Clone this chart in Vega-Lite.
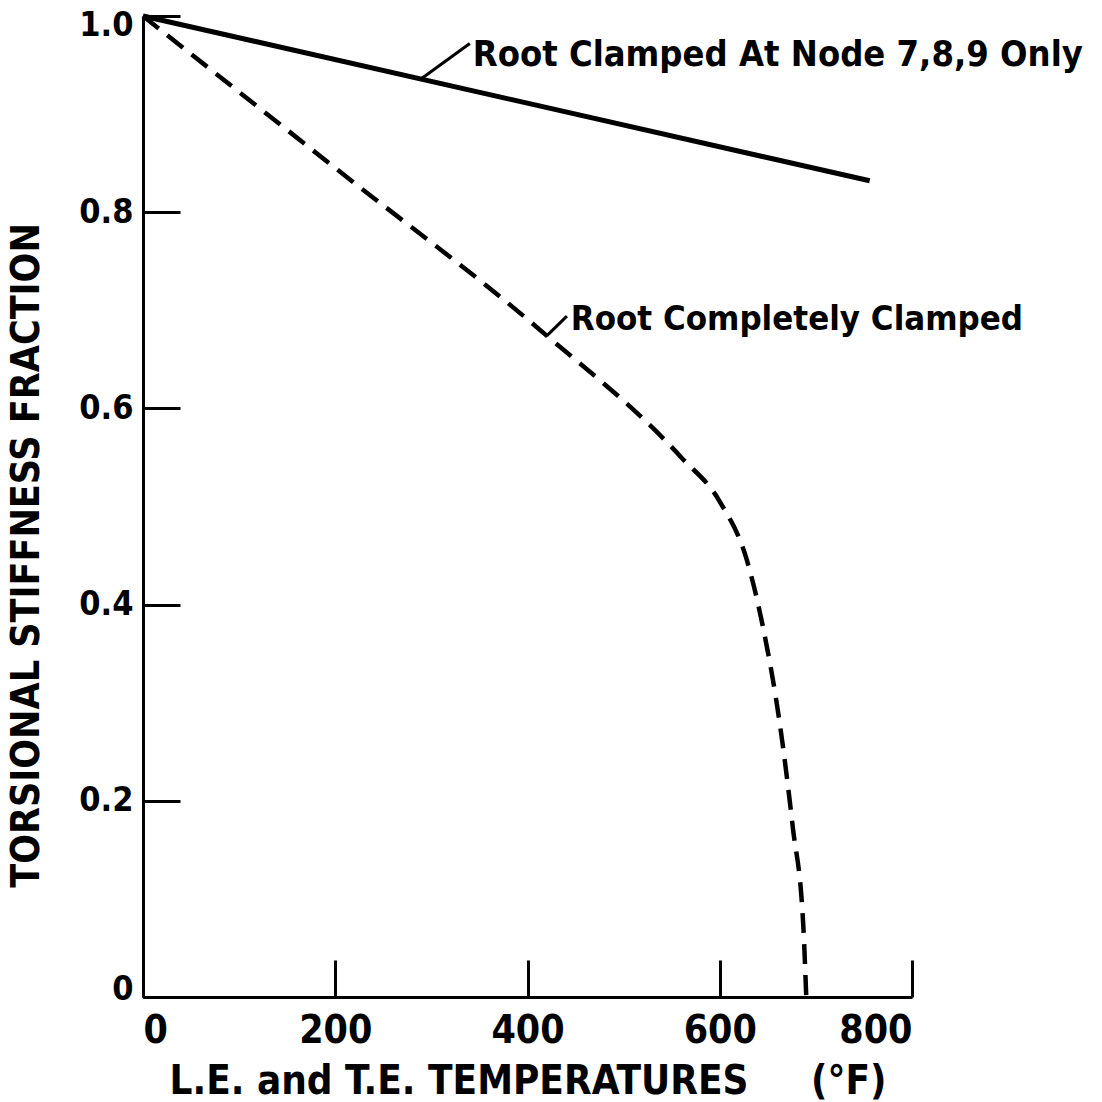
{
  "$schema": "https://vega.github.io/schema/vega-lite/v6.json",
  "width": 769,
  "height": 981,
  "autosize": {"type": "none"},
  "padding": {"left": 143, "top": 16, "right": 190, "bottom": 105},
  "background": "white",
  "config": {
    "view": {"stroke": null},
    "font": "DejaVu Sans Condensed, DejaVu Sans",
    "axis": {
      "grid": false,
      "domainColor": "black",
      "domainWidth": 3,
      "tickColor": "black",
      "tickWidth": 3,
      "labelColor": "black",
      "titleColor": "black",
      "labelFont": "DejaVu Sans Condensed, DejaVu Sans",
      "titleFont": "DejaVu Sans Condensed, DejaVu Sans",
      "labelFontWeight": "bold",
      "titleFontWeight": "bold"
    }
  },
  "datasets": {
    "curves": [
      {"series": "Root Clamped At Node 7,8,9 Only", "temp": 0, "frac": 1.0},
      {"series": "Root Clamped At Node 7,8,9 Only", "temp": 756, "frac": 0.832},
      {"series": "Root Completely Clamped", "temp": 0, "frac": 1.0},
      {"series": "Root Completely Clamped", "temp": 200, "frac": 0.845},
      {"series": "Root Completely Clamped", "temp": 413, "frac": 0.68},
      {"series": "Root Completely Clamped", "temp": 560, "frac": 0.55},
      {"series": "Root Completely Clamped", "temp": 600, "frac": 0.505},
      {"series": "Root Completely Clamped", "temp": 628, "frac": 0.446},
      {"series": "Root Completely Clamped", "temp": 645, "frac": 0.377},
      {"series": "Root Completely Clamped", "temp": 663, "frac": 0.275},
      {"series": "Root Completely Clamped", "temp": 676, "frac": 0.173},
      {"series": "Root Completely Clamped", "temp": 687, "frac": 0.071},
      {"series": "Root Completely Clamped", "temp": 690, "frac": 0.0}
    ],
    "leaders": [
      {"x1": 288, "y1": 0.935, "x2": 340, "y2": 0.972},
      {"x1": 420, "y1": 0.674, "x2": 441, "y2": 0.694}
    ],
    "labels": [
      {"label": "Root Clamped At Node 7,8,9 Only", "x": 343, "y": 0.96, "which": "solid"},
      {"label": "Root Completely Clamped", "x": 445, "y": 0.69, "which": "dashed"}
    ]
  },
  "layer": [
    {
      "data": {"name": "curves"},
      "transform": [{"filter": "datum.series == 'Root Clamped At Node 7,8,9 Only'"}],
      "mark": {"type": "line", "color": "black", "strokeWidth": 5},
      "encoding": {
        "x": {
          "field": "temp", "type": "quantitative",
          "scale": {"domain": [0, 800], "nice": false},
          "axis": {
            "values": [0, 200, 400, 600, 800],
            "tickSize": -37,
            "labelFontSize": 39,
            "labelPadding": 51,
            "title": "L.E. and T.E. TEMPERATURES\u00a0\u00a0\u00a0\u00a0\u00a0(°F)",
            "titleFontSize": 40,
            "titlePadding": 11
          }
        },
        "y": {
          "field": "frac", "type": "quantitative",
          "scale": {"domain": [0, 1], "nice": false},
          "axis": {
            "values": [0, 0.2, 0.4, 0.6, 0.8, 1.0],
            "tickSize": -37,
            "labelFontSize": 34,
            "labelPadding": 47,
            "labelOffset": {"condition": [{"test": "datum.value == 1", "value": 9}, {"test": "datum.value == 0", "value": -8}], "value": 0},
            "labelExpr": "datum.value == 0 ? '0' : format(datum.value, '.1f')",
            "title": "TORSIONAL STIFFNESS FRACTION",
            "titleFontSize": 39,
            "titlePadding": 32,
            "titleY": 539
          }
        }
      }
    },
    {
      "data": {"name": "curves"},
      "transform": [{"filter": "datum.series == 'Root Completely Clamped'"}],
      "mark": {"type": "line", "color": "black", "strokeWidth": 4.5, "strokeDash": [20, 11], "interpolate": "monotone"},
      "encoding": {
        "x": {"field": "temp", "type": "quantitative"},
        "y": {"field": "frac", "type": "quantitative"}
      }
    },
    {
      "data": {"name": "leaders"},
      "mark": {"type": "rule", "color": "black", "strokeWidth": 3},
      "encoding": {
        "x": {"field": "x1", "type": "quantitative"},
        "x2": {"field": "x2"},
        "y": {"field": "y1", "type": "quantitative"},
        "y2": {"field": "y2"}
      }
    },
    {
      "data": {"name": "labels"},
      "transform": [{"filter": "datum.which == 'solid'"}],
      "mark": {"type": "text", "align": "left", "baseline": "middle", "fontSize": 36, "fontWeight": "bold", "color": "black", "font": "DejaVu Sans Condensed, DejaVu Sans"},
      "encoding": {
        "x": {"field": "x", "type": "quantitative"},
        "y": {"field": "y", "type": "quantitative"},
        "text": {"field": "label"}
      }
    },
    {
      "data": {"name": "labels"},
      "transform": [{"filter": "datum.which == 'dashed'"}],
      "mark": {"type": "text", "align": "left", "baseline": "middle", "fontSize": 34.5, "fontWeight": "bold", "color": "black", "font": "DejaVu Sans Condensed, DejaVu Sans"},
      "encoding": {
        "x": {"field": "x", "type": "quantitative"},
        "y": {"field": "y", "type": "quantitative"},
        "text": {"field": "label"}
      }
    }
  ]
}
